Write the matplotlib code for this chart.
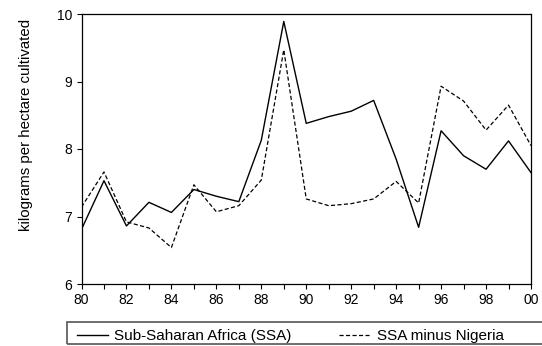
import matplotlib
matplotlib.use("Agg")
from matplotlib import pyplot as plt
from matplotlib.patches import Rectangle
import numpy as np

plt.rcParams['font.family'] = ['Liberation Sans', 'DejaVu Sans']

years = list(range(1980, 2001))
ssa = [6.81, 7.53, 6.86, 7.21, 7.06, 7.40, 7.30, 7.22, 8.13, 9.89, 8.38,
       8.48, 8.56, 8.72, 7.85, 6.84, 8.27, 7.90, 7.70, 8.12, 7.65]
ssa_no_nigeria = [7.14, 7.66, 6.92, 6.83, 6.54, 7.47, 7.07, 7.16, 7.54, 9.47, 7.26,
                  7.16, 7.19, 7.26, 7.52, 7.20, 8.93, 8.71, 8.28, 8.65, 8.05]
xtick_years = list(range(1980, 2001, 2))
xtick_labels = ["%02d" % (y % 100) for y in xtick_years]
ylabel = "kilograms per hectare cultivated"

W, H = 542, 346
fig = plt.figure(figsize=(W / 100, H / 100), dpi=100)
ax = fig.add_axes([81.5 / W, 1 - 284 / H, (531 - 81.5) / W, (284 - 14) / H])

l1, = ax.plot(years, ssa, color="black", lw=1.0, label="Sub-Saharan Africa (SSA)")
l2, = ax.plot(years, ssa_no_nigeria, color="black", lw=0.9, ls=(0, (3.3, 1.9)),
              label="SSA minus Nigeria")

ax.set_xlim(1980, 2000)
ax.set_ylim(6, 10)
ax.set_xticks(xtick_years)
ax.set_xticklabels(xtick_labels)
ax.set_xticks([y for y in years if y % 2 == 1], minor=True)
ax.set_yticks([6, 7, 8, 9, 10])
ax.tick_params(axis="both", which="both", direction="out", length=3.5, width=0.8,
               labelsize=10, colors="black", pad=3)
for s in ax.spines.values():
    s.set_linewidth(0.9)
ax.set_ylabel(ylabel, fontsize=10.8)
ax.yaxis.set_label_coords((33 - 81.5) / 449.5, (284 - 125) / 270)

# legend box along the bottom
fig.patches.append(Rectangle((67 / W, 2 / H), (W - 62) / W, 22 / H,
                             transform=fig.transFigure, fill=False,
                             edgecolor="#555555", lw=1.2))
fig.legend(handles=[l1, l2], loc="center left", bbox_to_anchor=(77 / W, 10 / H),
           ncol=2, frameon=False, fontsize=11, handlelength=2.0,
           handletextpad=0.45, columnspacing=3.1, borderaxespad=0, borderpad=0)

fig.savefig("out.png", dpi=100)
